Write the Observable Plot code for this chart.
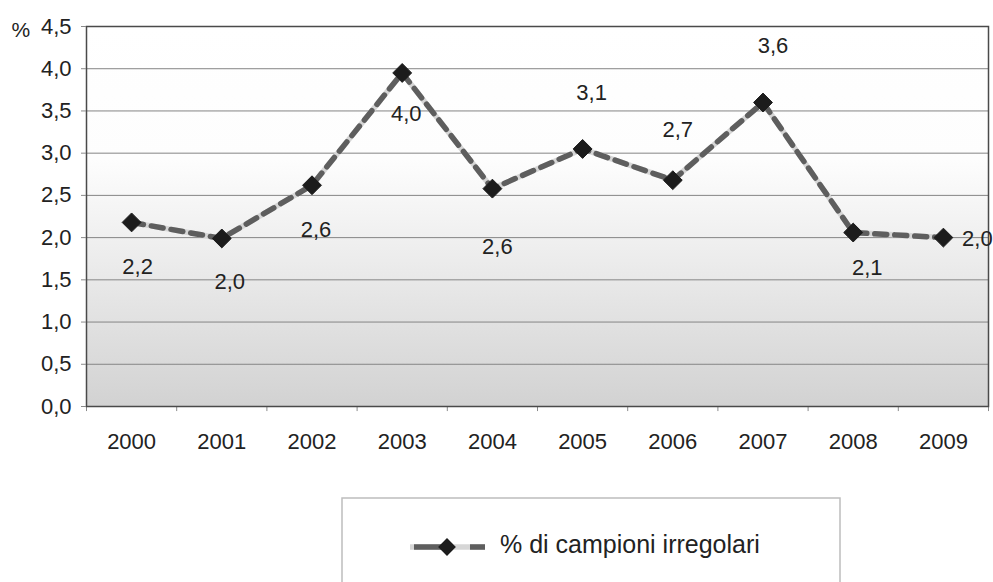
<!DOCTYPE html>
<html>
<head>
<meta charset="utf-8">
<script src="https://cdn.jsdelivr.net/npm/d3@7"></script>
<script src="https://cdn.jsdelivr.net/npm/@observablehq/plot@0.6"></script>
<style>
  body { margin: 0; background: #fff; font-family: "Liberation Sans", Arial, sans-serif; }
  #wrap { width: 993px; height: 582px; overflow: hidden; }
  svg { display: block; }
</style>
</head>
<body>
<div id="wrap"></div>
<script>
// ---- data ----
const years = [2000, 2001, 2002, 2003, 2004, 2005, 2006, 2007, 2008, 2009];
const values = [2.18, 1.99, 2.62, 3.95, 2.58, 3.05, 2.68, 3.60, 2.06, 2.00];
const valueLabels = ["2,2", "2,0", "2,6", "4,0", "2,6", "3,1", "2,7", "3,6", "2,1", "2,0"];
const yTicks = [0, 0.5, 1, 1.5, 2, 2.5, 3, 3.5, 4, 4.5];
const seriesName = "% di campioni irregolari";
const unitLabel = "%";

// label placement (pixel offsets from each point), style only
const labelOffsets = [[6, 45], [8, 43], [4, 45], [4, 41], [5, 58], [9, -56], [5, -50], [10, -57], [14, 35], [34, 1]];

const data = years.map((y, i) => ({year: y, value: values[i], label: valueLabels[i]}));
const boundaries = years.map(y => y - 0.5).concat([years[years.length - 1] + 0.5]);
const fmt = d => d.toFixed(1).replace(".", ",");

const textColor = "#222222";

const chart = Plot.plot({
  width: 993,
  height: 470,
  marginLeft: 86,
  marginRight: 5,
  marginTop: 26,
  marginBottom: 64,
  style: {fontFamily: "'Liberation Sans', Arial, sans-serif", color: textColor, background: "transparent"},
  x: {domain: [boundaries[0], boundaries[boundaries.length - 1]]},
  y: {domain: [0, 4.5]},
  marks: [
    Plot.frame({fill: "url(#bgGrad)", stroke: "none"}),
    Plot.ruleY(yTicks.filter(d => d > 0 && d < 4.5), {stroke: "#858585", strokeWidth: 1}),
    Plot.ruleX(boundaries, {y1: 0, y2: -0.06, stroke: "#8a8a8a", strokeWidth: 1}),
    Plot.frame({stroke: "#4a4a4a", strokeWidth: 1.5}),
    Plot.axisY({ticks: yTicks, tickFormat: fmt, tickSize: 5, tickPadding: 10, fontSize: 22, stroke: "#8a8a8a", label: null}),
    Plot.axisX({ticks: years, tickFormat: d => String(d), tickSize: 0, tickPadding: 27, fontSize: 22, label: null}),
    Plot.line(data, {x: "year", y: "value", stroke: "#d6d6d6", strokeWidth: 5.5}),
    Plot.line(data, {x: "year", y: "value", stroke: "#5e5e5e", strokeWidth: 5.5, strokeDasharray: "12,8"}),
    Plot.dot(data, {x: "year", y: "value", symbol: "diamond2", r: 8.5, fill: "#1c1c1c", stroke: "#1c1c1c", strokeWidth: 1}),
    ...data.map((d, i) => Plot.text([d], {
      x: "year", y: "value", text: "label",
      dx: labelOffsets[i][0], dy: labelOffsets[i][1],
      fontSize: 22, fill: textColor
    })),
    Plot.text([unitLabel], {frameAnchor: "top-left", dx: -75, dy: -4, textAnchor: "start", fontSize: 21, fill: textColor})
  ]
});

// gradient background definition
const svg = d3.select(chart);
const defs = svg.insert("defs", ":first-child");
const grad = defs.append("linearGradient").attr("id", "bgGrad")
  .attr("x1", 0).attr("y1", 0).attr("x2", 0).attr("y2", 1);
[[0, "#ffffff"], [0.35, "#fdfdfd"], [0.6, "#ededed"], [1, "#d2d2d2"]].forEach(([o, c]) =>
  grad.append("stop").attr("offset", o).attr("stop-color", c));

document.getElementById("wrap").appendChild(chart);

// ---- legend (below the chart) ----
const leg = d3.select("#wrap").append("svg").attr("width", 993).attr("height", 112);
leg.append("rect").attr("x", 342).attr("y", 28).attr("width", 498).attr("height", 120)
  .attr("fill", "#fff").attr("stroke", "#bdbdbd").attr("stroke-width", 1.5);
leg.append("line").attr("x1", 410).attr("x2", 485).attr("y1", 77).attr("y2", 77)
  .attr("stroke", "#d6d6d6").attr("stroke-width", 5.5);
leg.append("line").attr("x1", 414).attr("x2", 485).attr("y1", 77).attr("y2", 77)
  .attr("stroke", "#5e5e5e").attr("stroke-width", 5.5).attr("stroke-dasharray", "33,23,15");
leg.append("path").attr("d", d3.symbol(d3.symbolDiamond2, Math.PI * 8 * 8)())
  .attr("transform", "translate(447,77)").attr("fill", "#1c1c1c");
leg.append("text").attr("x", 500).attr("y", 83).attr("font-size", 25)
  .attr("font-family", "'Liberation Sans', Arial, sans-serif").attr("fill", textColor)
  .text(seriesName);
</script>
</body>
</html>
